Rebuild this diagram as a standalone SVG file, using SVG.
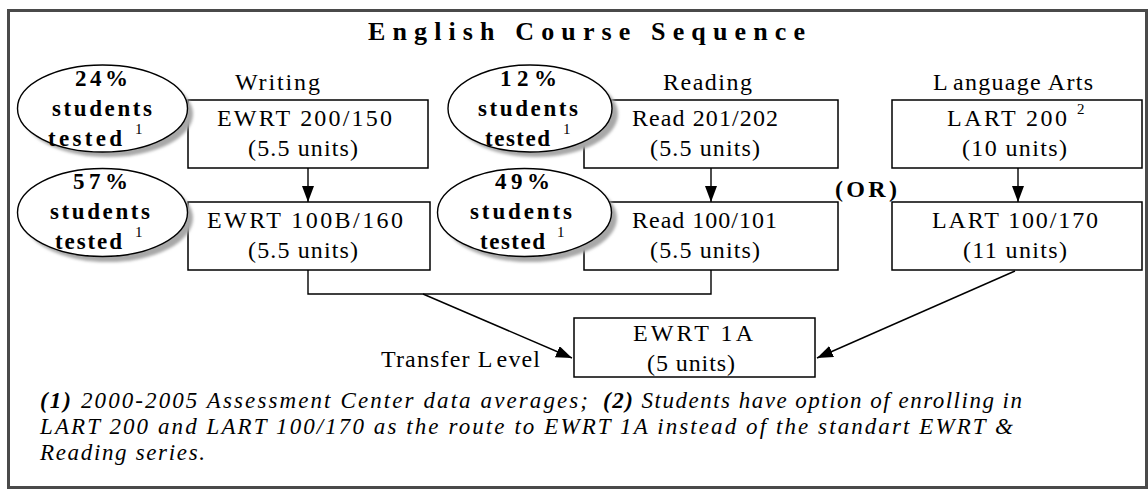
<svg xmlns="http://www.w3.org/2000/svg" width="1148" height="494" viewBox="0 0 1148 494">
  <style>
    .frame { fill: none; stroke: #4a4a4a; stroke-width: 3; }
    .box { fill: #fff; stroke: #000; stroke-width: 1.5; }
    .bubble { fill: #fff; stroke: #000; stroke-width: 1.4; }
    .shadow { fill: #a8a8a8; filter: url(#soft); }
    .link { fill: none; stroke: #000; stroke-width: 1.4; }
    .arrow { fill: none; stroke: #000; stroke-width: 1.4; marker-end: url(#head); }
    text { font-family: "Liberation Serif", "Times New Roman", serif; font-size: 24px; fill: #000; }
    .b { font-weight: bold; }
    .title { font-size: 26px; font-weight: bold; }
    .pct { font-size: 23px; font-weight: bold; }
    .sup { font-size: 15px; }
    .note { font-style: italic; font-size: 23px; }
  </style>
  <defs>
    <filter id="soft" x="-20%" y="-20%" width="140%" height="140%">
      <feGaussianBlur stdDeviation="1.5"/>
    </filter>
    <marker id="head" markerUnits="userSpaceOnUse" markerWidth="18" markerHeight="14" refX="16" refY="6" orient="auto">
      <path d="M0,0 L16,6 L0,12 z" fill="#000"/>
    </marker>
  </defs>

  <rect width="1148" height="494" fill="#fff"/>
  <rect class="frame" x="8.5" y="10.5" width="1138" height="477"/>

  <text class="title" x="368" y="40" textLength="437" lengthAdjust="spacing">English Course Sequence</text>

  <!-- column headings -->
  <text x="235" y="90" textLength="85" lengthAdjust="spacing">Writing</text>
  <text x="663" y="90" textLength="89" lengthAdjust="spacing">Reading</text>
  <text x="933" y="90" textLength="160" lengthAdjust="spacing">L<tspan dx="4">anguage Arts</tspan></text>

  <!-- course boxes -->
  <g id="ewrt200">
    <rect class="box" x="188" y="100" width="240" height="68"/>
    <text x="217" y="126" textLength="175" lengthAdjust="spacing">EWRT 200/150</text>
    <text x="248" y="156" textLength="110" lengthAdjust="spacing">(5.5 units)</text>
  </g>
  <g id="ewrt100">
    <rect class="box" x="188" y="202" width="242" height="68"/>
    <text x="207" y="228" textLength="196" lengthAdjust="spacing">EWRT 100B/160</text>
    <text x="248" y="258" textLength="110" lengthAdjust="spacing">(5.5 units)</text>
  </g>
  <g id="read201">
    <rect class="box" x="584" y="100" width="254" height="68"/>
    <text x="632" y="126" textLength="146" lengthAdjust="spacing">Read 201/202</text>
    <text x="650" y="156" textLength="110" lengthAdjust="spacing">(5.5 units)</text>
  </g>
  <g id="read100">
    <rect class="box" x="584" y="202" width="254" height="68"/>
    <text x="632" y="228" textLength="145" lengthAdjust="spacing">Read 100/101</text>
    <text x="650" y="258" textLength="110" lengthAdjust="spacing">(5.5 units)</text>
  </g>
  <g id="lart200">
    <rect class="box" x="892" y="100" width="250" height="68"/>
    <text x="947" y="126" textLength="120" lengthAdjust="spacing">LART 200</text>
    <text class="sup" x="1077" y="114">2</text>
    <text x="962" y="156" textLength="105" lengthAdjust="spacing">(10 units)</text>
  </g>
  <g id="lart100">
    <rect class="box" x="892" y="202" width="250" height="68"/>
    <text x="932" y="228" textLength="166" lengthAdjust="spacing">LART 100/170</text>
    <text x="963" y="258" textLength="104" lengthAdjust="spacing">(11 units)</text>
  </g>
  <g id="ewrt1a">
    <rect class="box" x="574" y="318" width="241" height="59"/>
    <text x="633" y="341" textLength="120" lengthAdjust="spacing">EWRT 1A</text>
    <text x="647" y="371" textLength="88" lengthAdjust="spacing">(5 units)</text>
  </g>

  <!-- placement test bubbles -->
  <g id="tested24">
    <ellipse class="shadow" cx="108" cy="114" rx="85" ry="43"/>
    <ellipse class="bubble" cx="102.5" cy="108.5" rx="85" ry="43.5"/>
    <text class="pct" x="75" y="86" textLength="53" lengthAdjust="spacing">24%</text>
    <text class="pct" x="52" y="116" textLength="100" lengthAdjust="spacing">students</text>
    <text class="pct" x="48" y="146" textLength="74" lengthAdjust="spacing">tested</text>
    <text class="sup" x="135" y="134">1</text>
  </g>
  <g id="tested57">
    <ellipse class="shadow" cx="108" cy="218" rx="85" ry="44"/>
    <ellipse class="bubble" cx="102.5" cy="212.5" rx="85" ry="44"/>
    <text class="pct" x="73" y="189" textLength="55" lengthAdjust="spacing">57%</text>
    <text class="pct" x="50" y="219" textLength="100" lengthAdjust="spacing">students</text>
    <text class="pct" x="55" y="249" textLength="67" lengthAdjust="spacing">tested</text>
    <text class="sup" x="135" y="237">1</text>
  </g>
  <g id="tested12">
    <ellipse class="shadow" cx="536" cy="114" rx="82" ry="43"/>
    <ellipse class="bubble" cx="530" cy="108.5" rx="82" ry="43.5"/>
    <text class="pct" x="500" y="86" textLength="57" lengthAdjust="spacing">12%</text>
    <text class="pct" x="478" y="116" textLength="100" lengthAdjust="spacing">students</text>
    <text class="pct" x="485" y="146" textLength="65" lengthAdjust="spacing">tested</text>
    <text class="sup" x="563" y="134">1</text>
  </g>
  <g id="tested49">
    <ellipse class="shadow" cx="530" cy="218" rx="87" ry="44"/>
    <ellipse class="bubble" cx="524.5" cy="212.5" rx="87" ry="44"/>
    <text class="pct" x="495" y="189" textLength="55" lengthAdjust="spacing">49%</text>
    <text class="pct" x="470" y="219" textLength="102" lengthAdjust="spacing">students</text>
    <text class="pct" x="480" y="249" textLength="65" lengthAdjust="spacing">tested</text>
    <text class="sup" x="557" y="237">1</text>
  </g>

  <!-- connectors -->
  <g id="connectors">
    <line class="arrow" x1="308" y1="168" x2="308" y2="202"/>
    <line class="arrow" x1="711" y1="168" x2="711" y2="202"/>
    <line class="arrow" x1="1018" y1="168" x2="1018" y2="202"/>
    <polyline class="link" points="308,270 308,294 711,294 711,270"/>
    <line class="arrow" x1="423" y1="294" x2="572" y2="358"/>
    <line class="arrow" x1="1015" y1="271" x2="817" y2="358"/>
  </g>

  <text class="b" x="835" y="197" textLength="62" lengthAdjust="spacing">(OR)</text>
  <text x="381" y="367" textLength="159" lengthAdjust="spacing">Transfer L<tspan dx="3">evel</tspan></text>

  <!-- footnotes -->
  <text class="note" x="40" y="408" textLength="548" lengthAdjust="spacing"><tspan font-weight="bold">(1)</tspan> 2000-2005 Assessment Center data averages;</text>
  <text class="note" x="603" y="408" textLength="419" lengthAdjust="spacing"><tspan font-weight="bold">(2)</tspan> Students have option of enrolling in</text>
  <text class="note" x="40" y="434" textLength="973" lengthAdjust="spacing">LART 200 and LART 100/170 as the route to EWRT 1A instead of the standart EWRT &amp;</text>
  <text class="note" x="40" y="460" textLength="165" lengthAdjust="spacing">Reading series.</text>
</svg>
